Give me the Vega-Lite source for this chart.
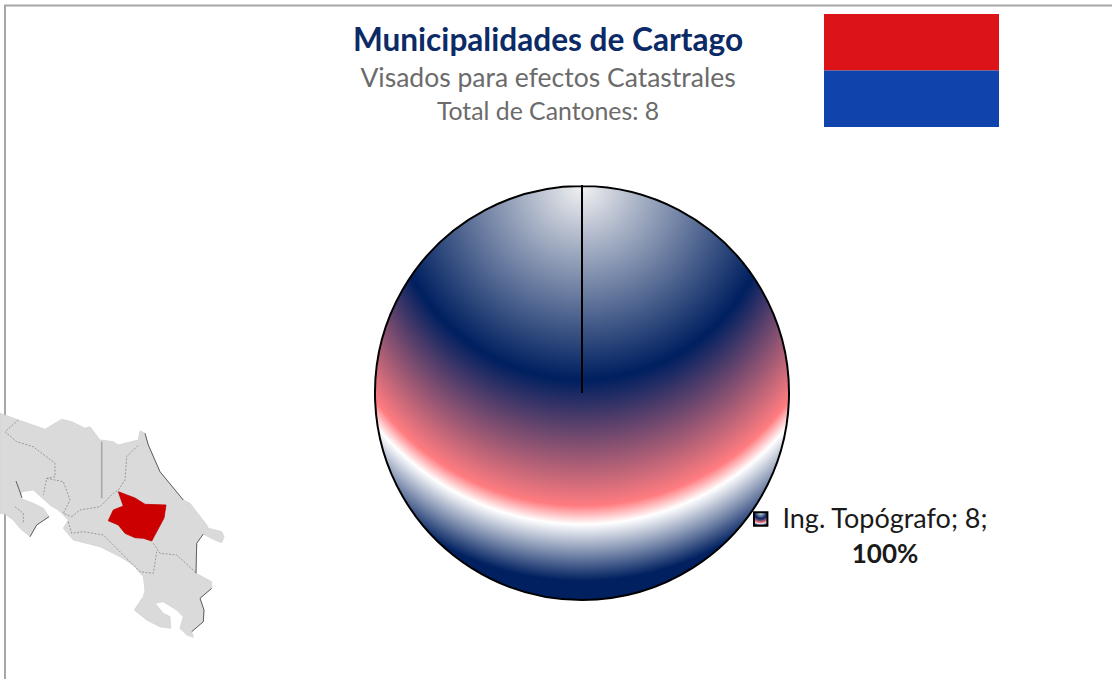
{"$schema":"https://vega.github.io/schema/vega-lite/v6.json","width":1112,"height":679,"autosize":"none","padding":0,"background":"#ffffff","view":{"stroke":null},
"title":{"text":"Municipalidades de Cartago","subtitle":"Visados para efectos Catastrales","anchor":"middle","dx":-8,"offset":-92,"font":"Lato","fontSize":31.6,"fontWeight":"bold","color":"#0b2a66","subtitleFont":"Lato","subtitleFontSize":26.5,"subtitleColor":"#6b6b6b","subtitlePadding":8},
"encoding":{"x":{"field":"x","type":"quantitative","scale":{"domain":[0,1112],"nice":false,"zero":false},"axis":null},"y":{"field":"y","type":"quantitative","scale":{"domain":[679,0],"nice":false,"zero":false},"axis":null}},
"datasets":{
"frame":[{"i":1,"x":1112,"y":5.5},{"i":2,"x":5,"y":5.5},{"i":3,"x":5,"y":679}],
"land":[{"i":1,"x":0,"y":413.3},{"i":2,"x":18.3,"y":420},{"i":3,"x":45,"y":429.3},{"i":4,"x":61.7,"y":419.3},{"i":5,"x":71.7,"y":421.7},{"i":6,"x":85,"y":428.3},{"i":7,"x":90,"y":426.7},{"i":8,"x":100,"y":440},{"i":9,"x":113.3,"y":441.7},{"i":10,"x":118.3,"y":445},{"i":11,"x":138.3,"y":440},{"i":12,"x":140,"y":430.7},{"i":13,"x":145,"y":433.3},{"i":14,"x":148.3,"y":445},{"i":15,"x":160,"y":471.7},{"i":16,"x":183.3,"y":500},{"i":17,"x":190,"y":503.3},{"i":18,"x":206.7,"y":525},{"i":19,"x":208.3,"y":528.3},{"i":20,"x":221.7,"y":531.7},{"i":21,"x":224,"y":536.7},{"i":22,"x":221.7,"y":542.7},{"i":23,"x":213.3,"y":539.3},{"i":24,"x":203.3,"y":534},{"i":25,"x":196.7,"y":543.3},{"i":26,"x":196,"y":573.3},{"i":27,"x":211.7,"y":581.7},{"i":28,"x":211.7,"y":588.3},{"i":29,"x":200,"y":598.3},{"i":30,"x":204,"y":610},{"i":31,"x":203.3,"y":621.7},{"i":32,"x":191.7,"y":631.7},{"i":33,"x":193.3,"y":637.3},{"i":34,"x":186.7,"y":635},{"i":35,"x":180,"y":628.3},{"i":36,"x":183.3,"y":616.7},{"i":37,"x":176.7,"y":610},{"i":38,"x":163.3,"y":601.7},{"i":39,"x":155,"y":603.3},{"i":40,"x":163.3,"y":613.3},{"i":41,"x":170,"y":616.7},{"i":42,"x":170.7,"y":628.3},{"i":43,"x":160,"y":626.7},{"i":44,"x":146.7,"y":620},{"i":45,"x":134.3,"y":610},{"i":46,"x":143.3,"y":596.7},{"i":47,"x":145,"y":590},{"i":48,"x":143.3,"y":576.7},{"i":49,"x":133.3,"y":565},{"i":50,"x":120,"y":556.7},{"i":51,"x":100,"y":546.7},{"i":52,"x":73.3,"y":540},{"i":53,"x":63.3,"y":528.3},{"i":54,"x":68.3,"y":520},{"i":55,"x":58.3,"y":510},{"i":56,"x":50,"y":505},{"i":57,"x":33.3,"y":490},{"i":58,"x":21.7,"y":491.7},{"i":59,"x":20,"y":498.3},{"i":60,"x":33.3,"y":503.3},{"i":61,"x":43.3,"y":508.3},{"i":62,"x":49,"y":516.7},{"i":63,"x":36.7,"y":525},{"i":64,"x":30,"y":536.7},{"i":65,"x":20,"y":528.3},{"i":66,"x":13.3,"y":520},{"i":67,"x":5,"y":514},{"i":68,"x":0,"y":513.3},{"i":69,"x":0,"y":413.3}],
"red":[{"i":1,"x":118.3,"y":491.7},{"i":2,"x":135,"y":498},{"i":3,"x":145,"y":504.3},{"i":4,"x":166,"y":505},{"i":5,"x":164,"y":518},{"i":6,"x":151.7,"y":541},{"i":7,"x":143.3,"y":538.3},{"i":8,"x":135,"y":537.7},{"i":9,"x":125,"y":533.3},{"i":10,"x":118.3,"y":525},{"i":11,"x":108.3,"y":520.7},{"i":12,"x":113.3,"y":510},{"i":13,"x":123.3,"y":506},{"i":14,"x":118.3,"y":491.7}],
"borders":[
{"g":"a","i":1,"x":18.3,"y":420},{"g":"a","i":2,"x":5,"y":431.7},{"g":"a","i":3,"x":16.7,"y":441.7},{"g":"a","i":4,"x":33.3,"y":446.7},{"g":"a","i":5,"x":55,"y":463.3},{"g":"a","i":6,"x":55,"y":476.7},{"g":"a","i":7,"x":46.7,"y":478.3},{"g":"a","i":8,"x":43.3,"y":495},
{"g":"b","i":1,"x":46.7,"y":478.3},{"g":"b","i":2,"x":63.3,"y":481.7},{"g":"b","i":3,"x":70,"y":500},{"g":"b","i":4,"x":63.3,"y":513.3},{"g":"b","i":5,"x":71.7,"y":516.7},
{"g":"c","i":1,"x":71.7,"y":516.7},{"g":"c","i":2,"x":80,"y":510},{"g":"c","i":3,"x":100,"y":506.7},{"g":"c","i":4,"x":113.3,"y":493.3},{"g":"c","i":5,"x":118.3,"y":490},{"g":"c","i":6,"x":125,"y":480},{"g":"c","i":7,"x":126.7,"y":456.7},{"g":"c","i":8,"x":138.3,"y":445},
{"g":"d","i":1,"x":68.3,"y":521.7},{"g":"d","i":2,"x":71.7,"y":533.3},{"g":"d","i":3,"x":83.3,"y":531.7},{"g":"d","i":4,"x":103.3,"y":535},{"g":"d","i":5,"x":123.3,"y":555},{"g":"d","i":6,"x":140,"y":571.7},{"g":"d","i":7,"x":153.3,"y":573.3},{"g":"d","i":8,"x":156.7,"y":551.7},
{"g":"e","i":1,"x":153.3,"y":543.3},{"g":"e","i":2,"x":160,"y":553.3},{"g":"e","i":3,"x":176.7,"y":555},{"g":"e","i":4,"x":196.7,"y":573.3},
{"g":"f","i":1,"x":15,"y":506.7},{"g":"f","i":2,"x":23.3,"y":513.3},{"g":"f","i":3,"x":23.3,"y":523.3}],
"coast":[
{"g":"a","i":1,"x":145,"y":433.3},{"g":"a","i":2,"x":148.3,"y":445},{"g":"a","i":3,"x":160,"y":471.7},{"g":"a","i":4,"x":183.3,"y":500},
{"g":"b","i":1,"x":203.3,"y":534},{"g":"b","i":2,"x":196.7,"y":543.3},{"g":"b","i":3,"x":196,"y":573.3},
{"g":"c","i":1,"x":16,"y":481},{"g":"c","i":2,"x":20,"y":492},{"g":"c","i":3,"x":22,"y":498},
{"g":"d","i":1,"x":49,"y":516.7},{"g":"d","i":2,"x":36.7,"y":525},{"g":"d","i":3,"x":30,"y":536.7},
{"g":"e","i":1,"x":211.7,"y":588.3},{"g":"e","i":2,"x":200,"y":598.3},{"g":"e","i":3,"x":204,"y":610},{"g":"e","i":4,"x":203.3,"y":621.7},{"g":"e","i":5,"x":191.7,"y":631.7}],
"seam":[{"i":1,"x":101.7,"y":441.7},{"i":2,"x":101.7,"y":498.3}],
"flag":[{"color":"rojo","x":824,"x2":999,"y":14,"y2":70.5},{"color":"azul","x":824,"x2":999,"y":70.5,"y2":127}],
"pie":[{"categoria":"Ing. Topógrafo","cantones":8,"x":582,"y":393}],
"key":[{"categoria":"Ing. Topógrafo","x":760.7,"y":519}],
"lines":[{"t":"Total de Cantones: 8","x":548,"y":113}],
"lab1":[{"t":"Ing. Topógrafo; 8;","x":885,"y":520}],
"lab2":[{"t":"100%","x":885,"y":555}]
},
"layer":[
{"data":{"name":"frame"},"mark":{"type":"line","stroke":"#a6a6a6","strokeWidth":2,"clip":true},"encoding":{"order":{"field":"i"}}},
{"data":{"name":"land"},"mark":{"type":"line","fill":"#dadada","stroke":"#d2d2d2","strokeWidth":0.8},"encoding":{"order":{"field":"i"}}},
{"data":{"name":"seam"},"mark":{"type":"line","stroke":"#a6a6a6","strokeWidth":1.5},"encoding":{"order":{"field":"i"}}},
{"data":{"name":"borders"},"mark":{"type":"line","stroke":"#7d7d7d","strokeWidth":0.7,"strokeDash":[2,1.5]},"encoding":{"detail":{"field":"g"},"order":{"field":"i"}}},
{"data":{"name":"coast"},"mark":{"type":"line","stroke":"#5f5f5f","strokeWidth":1},"encoding":{"detail":{"field":"g"},"order":{"field":"i"}}},
{"data":{"name":"red"},"mark":{"type":"line","fill":"#cc0000","stroke":"#c00000","strokeWidth":0.8},"encoding":{"order":{"field":"i"}}},
{"data":{"name":"flag"},"mark":{"type":"rect"},"encoding":{"x2":{"field":"x2"},"y2":{"field":"y2"},"fill":{"field":"color","type":"nominal","scale":{"domain":["rojo","azul"],"range":["#dc1418","#1044ac"]},"legend":null}}},
{"data":{"name":"pie"},"mark":{"type":"arc","outerRadius":207,"fill":{"gradient":"radial","x1":0.5,"y1":0,"r1":0,"x2":0.5,"y2":0,"r2":1,"stops":[{"offset":0,"color":"#f2f2f2"},{"offset":0.4645,"color":"#002060"},{"offset":1,"color":"#002060"}]}},"encoding":{"theta":{"field":"cantones","type":"quantitative","scale":{"domain":[0,8],"range":[0,6.28315]}}}},
{"data":{"name":"pie"},"mark":{"type":"arc","outerRadius":207,"stroke":"#000000","strokeWidth":2,"fill":{"gradient":"radial","x1":0.5,"y1":0.006,"r1":0.4645,"x2":0.5,"y2":0.244,"r2":0.7097,"stops":[{"offset":0,"color":"rgba(0,32,96,0)"},{"offset":0.001,"color":"#002060"},{"offset":0.625,"color":"#ff7c80"},{"offset":0.717,"color":"#ffffff"},{"offset":1,"color":"#002060"}]}},"encoding":{"theta":{"field":"cantones","type":"quantitative","scale":{"domain":[0,8],"range":[0,6.28315]}}}},
{"data":{"name":"key"},"mark":{"type":"point","shape":"square","size":180,"filled":true,"opacity":1,"stroke":"#000000","strokeWidth":2,"fill":{"gradient":"radial","x1":0.5,"y1":0,"r1":0,"x2":0.5,"y2":0,"r2":1,"stops":[{"offset":0,"color":"#f2f2f2"},{"offset":0.48,"color":"#002060"},{"offset":0.785,"color":"#ff7c80"},{"offset":0.84,"color":"#ffffff"},{"offset":1,"color":"#002060"}]}}},
{"data":{"name":"lines"},"mark":{"type":"text","font":"Lato","fontSize":24.8,"color":"#6b6b6b","align":"center","baseline":"middle"},"encoding":{"text":{"field":"t"}}},
{"data":{"name":"lab1"},"mark":{"type":"text","font":"Lato","fontSize":27,"color":"#1a1a1a","align":"center","baseline":"middle"},"encoding":{"text":{"field":"t"}}},
{"data":{"name":"lab2"},"mark":{"type":"text","font":"Lato","fontSize":26,"fontWeight":"bold","color":"#1a1a1a","align":"center","baseline":"middle"},"encoding":{"text":{"field":"t"}}}
]}
